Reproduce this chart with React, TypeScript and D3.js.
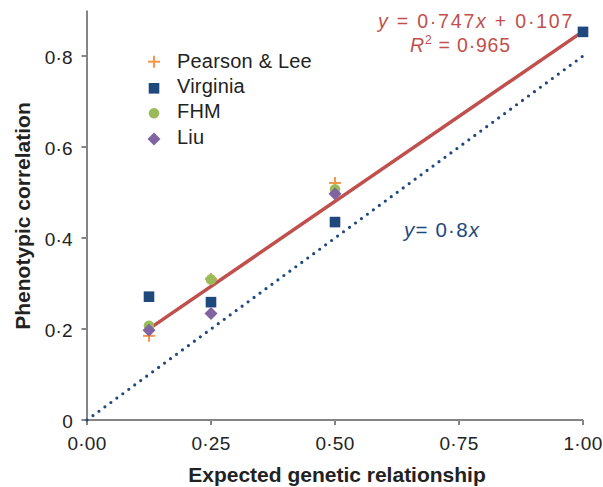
import React from "react";
import * as d3 from "d3";

const relationX = [0.125, 0.25, 0.5, 1.0];
const pearsonLee = [0.185, 0.31, 0.521];
const virginia = [0.271, 0.259, 0.435, 0.853];
const fhm = [0.207, 0.309, 0.507];
const liu = [0.197, 0.234, 0.497];
const fitSlope = 0.747;
const fitIntercept = 0.107;
const fitRange = [0.125, 1.0];
const refSlope = 0.8;
const xTicks = [0, 0.25, 0.5, 0.75, 1.0];
const xTickLabels = ["0·00", "0·25", "0·50", "0·75", "1·00"];
const yTicks = [0, 0.2, 0.4, 0.6, 0.8];
const yTickLabels = ["0", "0·2", "0·4", "0·6", "0·8"];
const seriesNames = ["Pearson & Lee", "Virginia", "FHM", "Liu"];

const W = 603;
const H = 487;
const FONT = "'Liberation Sans', Arial, Helvetica, sans-serif";
const C_ORANGE = "#f79646";
const C_BLUE = "#1f497d";
const C_GREEN = "#9bbb59";
const C_PURPLE = "#8064a2";
const C_RED = "#c0504d";
const C_AXIS = "#858585";
const C_TEXT = "#222";

function Marker({ type, x, y }: { type: string; x: number; y: number }) {
  if (type === "plus") {
    return (
      <g stroke={C_ORANGE} strokeWidth={2}>
        <line x1={x - 6} x2={x + 6} y1={y} y2={y} />
        <line x1={x} x2={x} y1={y - 6} y2={y + 6} />
      </g>
    );
  }
  if (type === "square") {
    return <rect x={x - 5.3} y={y - 5.3} width={10.6} height={10.6} fill={C_BLUE} />;
  }
  if (type === "circle") {
    return <circle cx={x} cy={y} r={5.3} fill={C_GREEN} />;
  }
  return (
    <path
      d={`M${x},${y - 6.5}L${x + 6.5},${y}L${x},${y + 6.5}L${x - 6.5},${y}Z`}
      fill={C_PURPLE}
    />
  );
}

export default function App() {
  const x = d3.scaleLinear().domain([0, 1]).range([87, 583]);
  const y = d3.scaleLinear().domain([0, 0.9]).range([420, 10.5]);

  const fitLine = d3
    .line<number>()
    .x((d) => x(d))
    .y((d) => y(fitSlope * d + fitIntercept));
  const refLine = d3
    .line<number>()
    .x((d) => x(d))
    .y((d) => y(refSlope * d));

  const series = [
    { type: "plus", vals: pearsonLee },
    { type: "square", vals: virginia },
    { type: "circle", vals: fhm },
    { type: "diamond", vals: liu },
  ];
  const legendY = [61.7, 88.3, 113.3, 139];
  const legendBase = [68, 93, 118.3, 144];

  return (
    <svg
      width={W}
      height={H}
      style={{ position: "absolute", left: 0, top: 0, background: "#fff" }}
      fontFamily={FONT}
    >
      {/* axes */}
      <g stroke={C_AXIS} strokeWidth={2} fill="none">
        <line x1={x(0)} x2={x(0)} y1={y(0.9)} y2={y(0)} />
        <line x1={x(0)} x2={x(1)} y1={y(0)} y2={y(0)} />
        {xTicks.map((t) => (
          <line key={"xt" + t} x1={x(t)} x2={x(t)} y1={y(0)} y2={y(0) + 5} />
        ))}
        {yTicks.map((t) => (
          <line key={"yt" + t} x1={x(0) - 5.5} x2={x(0)} y1={y(t)} y2={y(t)} />
        ))}
      </g>
      {xTicks.map((t, i) => (
        <text
          key={"xl" + t}
          x={x(t)}
          y={450}
          textAnchor="middle"
          fontSize={19}
          letterSpacing={0.3}
          fill={C_TEXT}
        >
          {xTickLabels[i]}
        </text>
      ))}
      {yTicks.map((t, i) => (
        <text
          key={"yl" + t}
          x={73}
          y={y(t) + 7.5}
          textAnchor="end"
          fontSize={19}
          letterSpacing={0.3}
          fill={C_TEXT}
        >
          {yTickLabels[i]}
        </text>
      ))}
      <text
        x={337}
        y={481.5}
        textAnchor="middle"
        fontSize={21}
        fontWeight="bold"
        fill={C_TEXT}
      >
        Expected genetic relationship
      </text>
      <text
        transform="translate(30,216) rotate(-90)"
        textAnchor="middle"
        fontSize={21}
        fontWeight="bold"
        fill={C_TEXT}
      >
        Phenotypic correlation
      </text>

      {/* lines */}
      <path
        d={refLine([0, 1]) || ""}
        fill="none"
        stroke={C_BLUE}
        strokeWidth={3.2}
        strokeLinecap="round"
        strokeDasharray="0 7.4"
      />
      <path
        d={fitLine(fitRange) || ""}
        fill="none"
        stroke={C_RED}
        strokeWidth={3.5}
      />

      {/* points */}
      {series.map((s) =>
        s.vals.map((v, i) => (
          <Marker key={s.type + i} type={s.type} x={x(relationX[i])} y={y(v)} />
        ))
      )}

      {/* legend */}
      {series.map((s, i) => (
        <g key={"lg" + i}>
          <Marker type={s.type} x={154} y={legendY[i]} />
          <text x={177} y={legendBase[i]} fontSize={20} letterSpacing={0.2} fill={C_TEXT}>
            {seriesNames[i]}
          </text>
        </g>
      ))}

      {/* annotations */}
      <text x={378} y={28} fontSize={19.5} letterSpacing={1.8} fill={C_RED}>
        <tspan fontStyle="italic">y</tspan>
        <tspan>{" = 0·747"}</tspan>
        <tspan fontStyle="italic">x</tspan>
        <tspan>{" + 0·107"}</tspan>
      </text>
      <text x={410} y={52} fontSize={19.5} letterSpacing={0.8} fill={C_RED}>
        <tspan fontStyle="italic">R</tspan>
        <tspan fontSize={12} dy={-8}>2</tspan>
        <tspan dy={8}>{" = 0·965"}</tspan>
      </text>
      <text x={404} y={237} fontSize={20.5} letterSpacing={1.2} fill={C_BLUE}>
        <tspan fontStyle="italic">y</tspan>
        <tspan>{"= 0·8"}</tspan>
        <tspan fontStyle="italic">x</tspan>
      </text>
    </svg>
  );
}
